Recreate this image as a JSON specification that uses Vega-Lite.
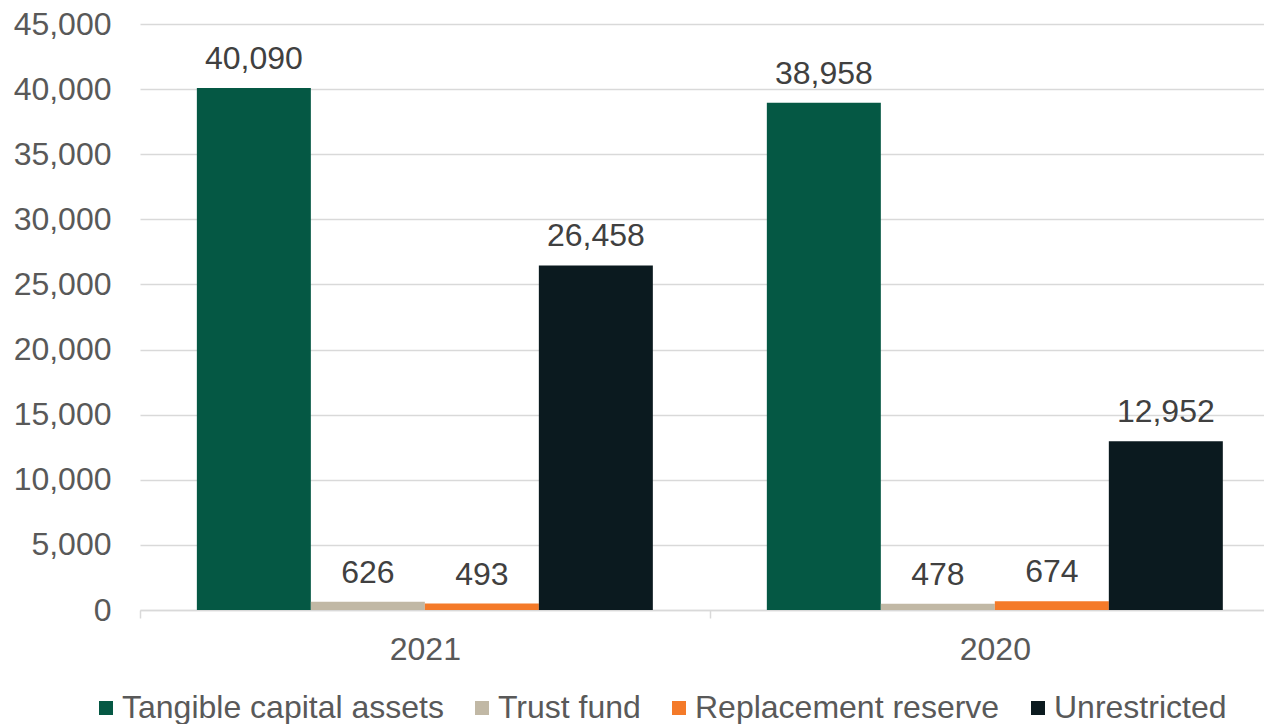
{
  "$schema": "https://vega.github.io/schema/vega-lite/v6.json",
  "autosize": "none",
  "padding": {"left": 140, "top": 24, "right": 0, "bottom": 114},
  "width": 1124,
  "height": 586,
  "background": "white",
  "config": {
    "font": "Liberation Sans",
    "view": {"stroke": null}
  },
  "data": {
    "values": [
      {"year": "2021", "series": "Tangible capital assets", "value": 40090},
      {"year": "2021", "series": "Trust fund", "value": 626},
      {"year": "2021", "series": "Replacement reserve", "value": 493},
      {"year": "2021", "series": "Unrestricted", "value": 26458},
      {"year": "2020", "series": "Tangible capital assets", "value": 38958},
      {"year": "2020", "series": "Trust fund", "value": 478},
      {"year": "2020", "series": "Replacement reserve", "value": 674},
      {"year": "2020", "series": "Unrestricted", "value": 12952}
    ]
  },
  "encoding": {
    "x": {
      "field": "year", "type": "nominal", "sort": ["2021", "2020"],
      "scale": {"paddingInner": 0.2, "paddingOuter": 0.086, "align": 0.58},
      "axis": {
        "title": null, "labelAngle": 0, "labelFontSize": 32, "labelColor": "#595959",
        "domainColor": "#d9d9d9", "domainWidth": 1.5, "tickColor": "#d9d9d9", "tickWidth": 1.5, "tickSize": 8,
        "tickOffset": -285, "labelOffset": 285, "labelPadding": 16
      }
    },
    "xOffset": {
      "field": "series", "type": "nominal",
      "sort": ["Tangible capital assets", "Trust fund", "Replacement reserve", "Unrestricted"],
      "scale": {"paddingInner": 0, "paddingOuter": 0}
    },
    "y": {
      "field": "value", "type": "quantitative",
      "scale": {"domain": [0, 45000], "nice": false},
      "axis": {
        "title": null, "values": [0, 5000, 10000, 15000, 20000, 25000, 30000, 35000, 40000, 45000],
        "format": ",.0f", "labelFontSize": 32, "labelColor": "#595959", "domain": false, "ticks": false,
        "gridColor": "#d9d9d9", "gridWidth": 1.5, "labelPadding": 29
      }
    }
  },
  "layer": [
    {
      "mark": {"type": "bar"},
      "encoding": {
        "color": {
          "field": "series", "type": "nominal",
          "sort": ["Tangible capital assets", "Trust fund", "Replacement reserve", "Unrestricted"],
          "scale": {
            "domain": ["Tangible capital assets", "Trust fund", "Replacement reserve", "Unrestricted"],
            "range": ["#055844", "#c1b8a5", "#f47a29", "#0b1a1f"]
          },
          "legend": {
            "title": null, "orient": "none", "legendX": -50, "legendY": 668, "direction": "horizontal",
            "labelFontSize": 32, "labelColor": "#595959", "symbolType": "square",
            "symbolSize": 196, "symbolStrokeWidth": 0, "labelOffset": 0, "columnPadding": 22,
            "labelLimit": 500
          }
        }
      }
    },
    {
      "mark": {"type": "text", "baseline": "alphabetic", "dy": -19, "fontSize": 32, "color": "#404040"},
      "encoding": {
        "text": {"field": "value", "type": "quantitative", "format": ","}
      }
    }
  ]
}
